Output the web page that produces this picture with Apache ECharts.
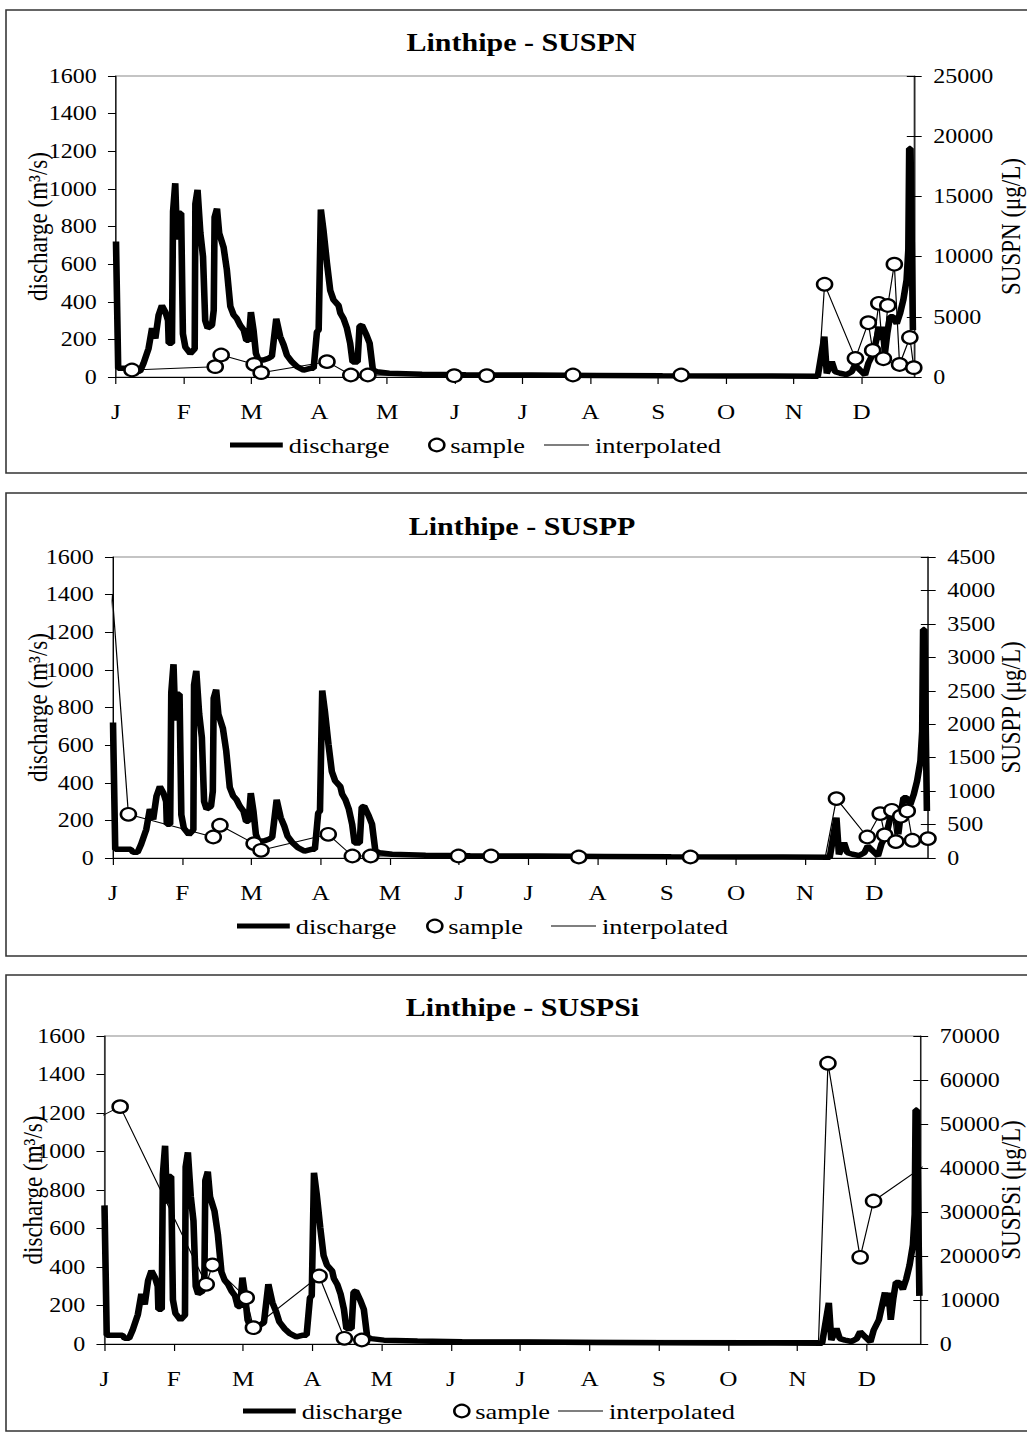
<!DOCTYPE html>
<html>
<head>
<meta charset="utf-8">
<title>Linthipe</title>
<script src="https://cdn.jsdelivr.net/npm/echarts@6.0.0/dist/echarts.min.js"></script>
<style>
  html, body { margin: 0; padding: 0; background: #fff; overflow: hidden; }
  /* the source figure is stretched horizontally, so the chart is drawn narrower and scaled */
  #chart { width: 856px; height: 1433px; transform: scaleX(1.19977); transform-origin: 0 0; }
</style>
</head>
<body>
<div id="chart"></div>
<script>
const SERIF = '"Liberation Serif", "Times New Roman", serif';
const SX = 1027 / 856;
const px = x => x / SX;

const MONTH_LABELS = ['J', 'F', 'M', 'A', 'M', 'J', 'J', 'A', 'S', 'O', 'N', 'D'];
const MONTH_TICKS = [0, 31, 62, 93, 124, 155, 186, 217, 248, 279, 310, 341];

// daily discharge (m3/s), [day of year, value] at the visible vertices
const DISCHARGE = [
  [0, 720], [1, 46], [8, 46], [9, 30], [11, 30], [12.6, 73], [14.9, 152], [16.5, 260], [18, 205],
  [19.5, 330], [21, 380], [22.6, 345], [23.8, 300], [24.1, 180], [25.6, 180], [26.1, 880], [27.1, 1030],
  [27.9, 730], [28.7, 870], [29.8, 870], [30.6, 230], [31.7, 160], [34, 125], [36, 150], [36.3, 920],
  [37.3, 995], [38.6, 765], [39.8, 640], [40.8, 300], [41.9, 260], [43.9, 275], [44.7, 355], [45.1, 850],
  [46.2, 895], [47.2, 765], [49.2, 690], [50.7, 570], [52.3, 375], [53.8, 330], [55.3, 310], [56.8, 275],
  [58.4, 250], [59.6, 195], [60.7, 195], [61.7, 345], [62.9, 250], [64, 125], [65.2, 90], [67.5, 90],
  [69.8, 100], [71.3, 110], [73.3, 310], [75.1, 215], [76.7, 170], [78.2, 115], [80.5, 80], [82.8, 55],
  [85.8, 37], [88.8, 46], [90.4, 46], [91.9, 240], [92.7, 250], [93.7, 890], [94.9, 780], [96.5, 605],
  [98, 460], [99.5, 410], [101.8, 380], [102.6, 340], [104.1, 310], [105.6, 260], [107.1, 180], [108.2, 80],
  [110.5, 80], [111.4, 270], [112.5, 275], [114.3, 230], [116, 180], [117.5, 37], [119.3, 28], [125, 20],
  [140, 15], [160, 12], [190, 10], [220, 8], [250, 6], [280, 5], [300, 5], [321, 4], [324, 214],
  [325.1, 20], [327.4, 81], [328.9, 28], [331.2, 20], [334.2, 13], [336.5, 28], [338, 64], [340.3, 37],
  [342.6, 11], [344.1, 73], [346.4, 126], [349.1, 267], [349.9, 197], [350.7, 267], [351.7, 126],
  [352.8, 233], [354, 320], [355.5, 320], [357.1, 284], [358.6, 337], [360.1, 409], [361.6, 515],
  [362.4, 675], [362.8, 1215], [363.4, 1215], [364.5, 250]
];

// samples (ug/L) and the extra bends of the interpolated line
const SUSPN_SAMPLES = [
  [7.3, 581], [45.4, 858], [48.1, 1827], [63.2, 1052], [66.4, 360], [96.5, 1274], [107.4, 166],
  [115.2, 166], [154.7, 110], [169.6, 110], [209, 166], [258.5, 166], [324.1, 7700], [338.2, 1550],
  [344.1, 4510], [346.1, 2210], [348.9, 6120], [351, 1520], [353, 5940], [356, 9370], [358.4, 1040],
  [363.1, 3280], [364.9, 775]
];
const SUSPN_INTERP_EXTRA = [[-2.6, 1140], [321.4, 166]];

const SUSPP_SAMPLES = [
  [6.9, 653], [44.9, 314], [47.9, 489], [63.2, 215], [66.3, 115], [96.4, 354], [107.2, 30], [115.4, 30],
  [154.7, 30], [169.3, 30], [208.6, 15], [258.6, 15], [324, 888], [337.8, 314], [343.6, 663],
  [345.6, 345], [348.8, 713], [350.6, 245], [352.8, 625], [355.7, 703], [358, 265], [365, 290]
];
const SUSPP_INTERP_EXTRA = [[-3.1, 3250], [-0.3, 3930], [319, 15]];

const SUSPSI_SAMPLES = [
  [7, 53940], [45.5, 13570], [48.3, 17960], [63.4, 10520], [66.6, 3710], [96, 15450], [107.3, 1290],
  [115.1, 909], [323.6, 63800], [338, 19700], [344, 32500]
];
const SUSPSI_INTERP_EXTRA = [[-3.4, 51300], [319.4, 800], [368, 41000]];

// layout of the three panels, in page pixels
const PANELS = [
  { title: 'Linthipe - SUSPN', param: 'SUSPN', samples: SUSPN_SAMPLES, extra: SUSPN_INTERP_EXTRA,
    max: 25000, interval: 5000, left: 116, right: 914, top: 76, bottom: 377, box: [10, 473],
    titleX: 521.5, titleY: 43, legendY: 446, legendX: [230, 428, 544], leftGap: 54, rightGap: 69 },
  { title: 'Linthipe - SUSPP', param: 'SUSPP', samples: SUSPP_SAMPLES, extra: SUSPP_INTERP_EXTRA,
    max: 4500, interval: 500, left: 113, right: 928, top: 557, bottom: 858, box: [493, 956],
    titleX: 522, titleY: 527, legendY: 927, legendX: [237, 426, 551], leftGap: 52, rightGap: 57 },
  { title: 'Linthipe - SUSPSi', param: 'SUSPSi', samples: SUSPSI_SAMPLES, extra: SUSPSI_INTERP_EXTRA,
    max: 70000, interval: 10000, left: 104.5, right: 920.5, top: 1036, bottom: 1344, box: [975, 1431],
    titleX: 522.5, titleY: 1008, legendY: 1412, legendX: [243, 453, 558], leftGap: 49, rightGap: 63 }
];

const monthLabel = v => {
  const i = MONTH_TICKS.indexOf(v);
  return i < 0 ? '' : MONTH_LABELS[i];
};
const plain = v => String(v);

const txt = (size, extra) => Object.assign({ fontSize: size, fontFamily: SERIF, color: '#000' }, extra || {});

const chart = echarts.init(document.getElementById('chart'), null, { renderer: 'svg' });

const grid = [], xAxis = [], yAxis = [], series = [], title = [], legend = [], graphic = [];

PANELS.forEach((p, i) => {
  grid.push({
    left: px(p.left), width: px(p.right - p.left), top: p.top, height: p.bottom - p.top,
    outerBoundsMode: 'none', containLabel: false,
    show: true, borderColor: '#8a8a8a', borderWidth: 1, backgroundColor: 'transparent'
  });

  xAxis.push({
    type: 'value', gridIndex: i, min: 0, max: 365, interval: 31,
    axisLine: { onZero: false, lineStyle: { color: '#000', width: 1 } },
    axisTick: { length: 7, lineStyle: { color: '#000' }, customValues: MONTH_TICKS },
    axisLabel: { customValues: MONTH_TICKS, formatter: monthLabel, margin: 24, ...txt(21) },
    splitLine: { show: false }
  });

  yAxis.push({
    type: 'value', gridIndex: i, position: 'left', min: 0, max: 1600, interval: 200,
    name: 'discharge (m³/s)', nameLocation: 'middle', nameGap: p.leftGap, nameTextStyle: txt(23),
    nameMoveOverlap: false,
    axisLine: { show: true, onZero: false, lineStyle: { color: '#000' } },
    axisTick: { show: true, length: 6.7, lineStyle: { color: '#000' } },
    axisLabel: { margin: 16, formatter: plain, ...txt(20) },
    splitLine: { show: false }
  });
  yAxis.push({
    type: 'value', gridIndex: i, position: 'right', min: 0, max: p.max, interval: p.interval,
    name: p.param + ' (μg/L)', nameLocation: 'middle', nameGap: p.rightGap, nameTextStyle: txt(23),
    nameMoveOverlap: false,
    axisLine: { show: true, onZero: false, lineStyle: { color: '#000' } },
    axisTick: { show: true, length: 6.4, lineStyle: { color: '#000' } },
    axisLabel: { margin: 16, formatter: plain, ...txt(20) },
    splitLine: { show: false }
  });
  // second right axis only for the inner half of the crossing ticks
  yAxis.push({
    type: 'value', gridIndex: i, position: 'right', min: 0, max: p.max, interval: p.interval,
    axisLine: { show: false, onZero: false },
    axisTick: { show: true, inside: true, length: 6, lineStyle: { color: '#000' } },
    axisLabel: { show: false },
    splitLine: { show: false }
  });

  const interp = p.samples.concat(p.extra).sort((a, b) => a[0] - b[0]);

  series.push({
    type: 'line', name: 'interpolated', xAxisIndex: i, yAxisIndex: 3 * i + 1,
    data: interp, symbol: 'none', clip: false, z: 2, silent: true,
    itemStyle: { color: '#000' },
    lineStyle: { color: '#000', width: 1 }
  });
  series.push({
    type: 'line', name: 'discharge', xAxisIndex: i, yAxisIndex: 3 * i,
    data: DISCHARGE, symbol: 'none', z: 3, silent: true,
    itemStyle: { color: '#000' },
    lineStyle: { color: '#000', width: 5.5 }
  });
  series.push({
    type: 'scatter', name: 'sample', xAxisIndex: i, yAxisIndex: 3 * i + 1,
    data: p.samples, symbol: 'circle', symbolSize: 12.5, z: 4, silent: true,
    itemStyle: { color: '#fff', borderColor: '#000', borderWidth: 2.2, opacity: 1 }
  });

  title.push({
    text: p.title, left: px(p.titleX), top: p.titleY - 13, textAlign: 'center', padding: 0,
    textStyle: txt(25, { fontWeight: 'bold' })
  });

  const lg = { top: p.legendY - 12, padding: 0, itemGap: 0, selectedMode: false, textStyle: txt(22) };
  legend.push({ ...lg, left: px(p.legendX[0]), itemWidth: 44, itemHeight: 5,
    data: [{ name: 'discharge', icon: 'rect', itemStyle: { color: '#000' } }] });
  legend.push({ ...lg, left: px(p.legendX[1]), itemWidth: 12.5, itemHeight: 12.5,
    data: [{ name: 'sample', icon: 'circle', itemStyle: { color: '#fff', borderColor: '#000', borderWidth: 2.2, opacity: 1 } }] });
  legend.push({ ...lg, left: px(p.legendX[2]), itemWidth: 37.5, itemHeight: 1,
    data: [{ name: 'interpolated', icon: 'rect', itemStyle: { color: '#000' } }] });

  graphic.push({
    type: 'rect', silent: true, z: -1,
    shape: { x: px(6), y: p.box[0], width: 900, height: p.box[1] - p.box[0] },
    style: { fill: 'none', stroke: '#333', lineWidth: 1.3 }
  });
});

chart.setOption({
  animation: false,
  backgroundColor: '#fff',
  color: ['#000'],
  title, legend, grid, xAxis, yAxis, series, graphic
});
</script>
</body>
</html>
